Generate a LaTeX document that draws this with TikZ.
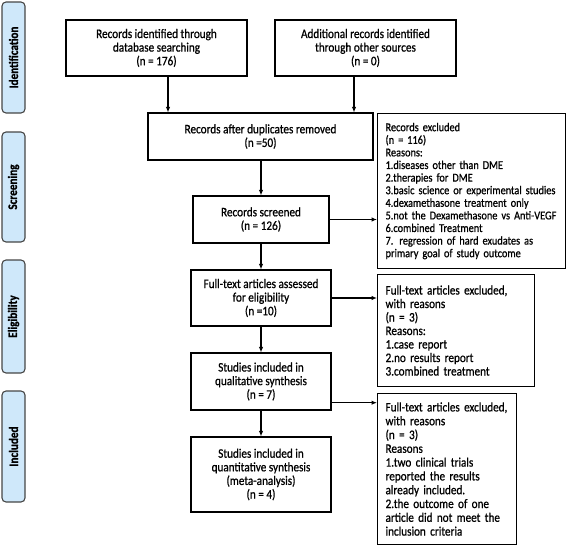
\documentclass[tikz,border=0pt]{standalone}
\usepackage{fontspec}
\setmainfont{Carlito}[FakeStretch=0.86,FakeBold=0.8]
\usetikzlibrary{arrows.meta}
\definecolor{sidefill}{RGB}{207,232,250}
\definecolor{sidedraw}{RGB}{70,70,70}
\newcommand\mytight{\lineskiplimit=-6pt\relax}
\newcommand\myfs[2]{\fontsize{#1}{#2}\selectfont\mytight}
\newcommand\ml[1]{\mbox{#1}}
\begin{document}
\begin{tikzpicture}[x=1pt,y=-1pt,
  font=\myfs{13}{13.6},
  box/.style={draw=black,line width=1.1pt,fill=white,inner sep=2pt,align=center},
  exbox/.style={draw=black,line width=1.1pt,fill=white,inner xsep=8pt,inner ysep=2pt,align=left,anchor=north west},
  side/.style={draw=sidedraw,line width=1.1pt,fill=sidefill,rounded corners=4pt,minimum width=23pt,inner sep=0pt,font=\fontsize{13}{13}\selectfont\bfseries},
  arr/.style={-{Latex[length=5.5pt,width=4.5pt]},line width=1.1pt}]
\useasboundingbox (0,0) rectangle (567,546);
% side labels
\node[side,minimum height=111pt] (sid) at (13.5,57.5) {\rotatebox{90}{Identification}};
\node[side,minimum height=110pt] (sscr) at (13.5,187) {\rotatebox{90}{Screening}};
\node[side,minimum height=113pt] (selg) at (13.5,316.5) {\rotatebox{90}{Eligibility}};
\node[side,minimum height=111pt] (sinc) at (13.5,446.5) {\rotatebox{90}{Included}};
% main boxes
\node[box,minimum width=181pt,minimum height=56pt] (b1) at (156.5,48) {Records identified through\\database searching\\(n = 176)};
\node[box,minimum width=181pt,minimum height=56pt] (b2) at (365.5,48) {Additional records identified\\through other sources\\(n = 0)};
\node[box,minimum width=225pt,minimum height=47pt] (b3) at (260.5,136.5) {Records after duplicates removed\\(n =50)};
\node[box,minimum width=136pt,minimum height=47pt] (b4) at (261,219.5) {Records screened\\(n = 126)};
\node[box,minimum width=140pt,minimum height=56pt] (b5) at (261,298) {Full-text articles assessed\\for eligibility\\(n =10)};
\node[box,minimum width=140pt,minimum height=57pt] (b6) at (261,381.5) {Studies included in\\qualitative synthesis\\(n = 7)};
\node[box,minimum width=140pt,minimum height=75pt] (b7) at (261,474.5) {Studies included in\\quantitative synthesis\\(meta-analysis)\\(n = 4)};
% exclusion boxes
\node[exbox,text width=172pt,minimum height=155pt,font=\myfs{12}{12.6}] (e1) at (377,113) {\ml{Records excluded}\\\ml{(n = 116)}\\\ml{Reasons:}\\\ml{1.diseases other than DME}\\\ml{2.therapies for DME}\\\ml{3.basic science or experimental studies}\\\ml{4.dexamethasone treatment only}\\\ml{5.not the Dexamethasone vs Anti-VEGF}\\\ml{6.combined Treatment}\\\ml{7. regression of hard exudates as}\\\ml{primary goal of study outcome}};
\node[exbox,text width=141pt,minimum height=112pt,font=\myfs{13}{13.5}] (e2) at (377,274) {\ml{Full-text articles excluded,}\\\ml{with reasons}\\\ml{(n = 3)}\\\ml{Reasons:}\\\ml{1.case report}\\\ml{2.no results report}\\\ml{3.combined treatment}};
\node[exbox,text width=123pt,minimum height=151pt,font=\myfs{13}{13.8}] (e3) at (377,393) {\ml{Full-text articles excluded,}\\\ml{with reasons}\\\ml{(n = 3)}\\\ml{Reasons}\\\ml{1.two clinical trials}\\\ml{reported the results}\\\ml{already included.}\\\ml{2.the outcome of one}\\\ml{article did not meet the}\\\ml{inclusion criteria}};
% arrows
\draw[arr] ([xshift=11.5pt]b1.south) -- ([xshift=11.5pt]b1.south |- b3.north);
\draw[arr] ([xshift=-11.5pt]b2.south) -- ([xshift=-11.5pt]b2.south |- b3.north);
\draw[arr] ([xshift=0.5pt]b3.south) -- (b4.north);
\draw[arr] (b4.south) -- (b5.north);
\draw[arr] (b5.south) -- (b6.north);
\draw[arr] (b6.south) -- (b7.north);
\draw[arr] (b4.east) -- (b4.east -| e1.west);
\draw[arr] (b5.east) -- (b5.east -| e2.west);
\draw[arr] ([yshift=-21.2pt]b6.east) -- ([yshift=-21.2pt]b6.east -| e3.west);
\end{tikzpicture}
\end{document}
